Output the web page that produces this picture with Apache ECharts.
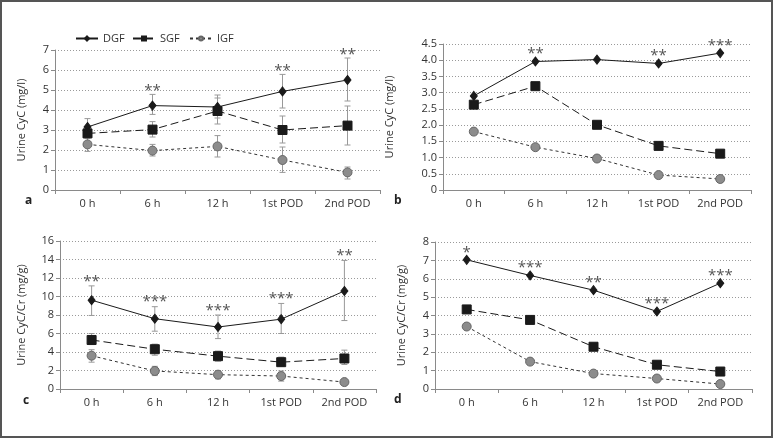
<!DOCTYPE html>
<html><head><meta charset="utf-8">
<script src="https://cdn.jsdelivr.net/npm/echarts@6/dist/echarts.min.js"></script>
<style>html,body{margin:0;padding:0;background:#fff}#c{width:773px;height:438px}</style>
</head><body><div id="c"></div>
<script>
const categories = ['0 h', '6 h', '12 h', '1st POD', '2nd POD'];
const seriesNames = ['DGF', 'SGF', 'IGF'];

// Panel a: Urine CyC (mg/l), mean with error bars
const aDGF = [3.15, 4.22, 4.15, 4.93, 5.5];
const aDGFLow = [2.8, 3.78, 3.6, 4.1, 4.45];
const aDGFHigh = [3.57, 4.78, 4.75, 5.78, 6.6];
const aSGF = [2.83, 3.02, 3.95, 3.0, 3.22];
const aSGFLow = [2.6, 2.65, 3.3, 2.35, 2.25];
const aSGFHigh = [3.05, 3.42, 4.6, 3.7, 4.2];
const aIGF = [2.28, 1.97, 2.18, 1.5, 0.88];
const aIGFLow = [1.93, 1.7, 1.65, 0.88, 0.55];
const aIGFHigh = [2.6, 2.28, 2.72, 2.15, 1.15];
const aStars = ['', '**', '', '**', '**'];

// Panel b: Urine CyC (mg/l)
const bDGF = [2.9, 3.96, 4.02, 3.9, 4.22];
const bSGF = [2.63, 3.2, 2.01, 1.36, 1.12];
const bIGF = [1.8, 1.32, 0.97, 0.46, 0.34];
const bStars = ['', '**', '', '**', '***'];

// Panel c: Urine CyC/Cr (mg/g), mean with error bars
const cDGF = [9.6, 7.6, 6.7, 7.55, 10.6];
const cDGFLow = [7.95, 6.25, 5.45, 6.0, 7.4];
const cDGFHigh = [11.15, 8.9, 8.0, 9.25, 13.9];
const cSGF = [5.3, 4.3, 3.55, 2.9, 3.3];
const cSGFLow = [4.8, 3.65, 3.0, 2.45, 2.65];
const cSGFHigh = [6.0, 4.85, 4.1, 3.45, 4.2];
const cIGF = [3.6, 1.95, 1.55, 1.4, 0.75];
const cIGFLow = [2.9, 1.45, 1.1, 0.85, 0.72];
const cIGFHigh = [4.25, 2.45, 2.0, 1.95, 0.78];
const cStars = ['**', '***', '***', '***', '**'];

// Panel d: Urine CyC/Cr (mg/g)
const dDGF = [7.03, 6.18, 5.38, 4.22, 5.76];
const dSGF = [4.33, 3.76, 2.3, 1.32, 0.95];
const dIGF = [3.4, 1.49, 0.84, 0.57, 0.27];
const dStars = ['*', '***', '**', '***', '***'];

const FONT = 'Open Sans';
const grids = [
  {left: 55, right: 393, top: 50, bottom: 248},
  {left: 443, right: 22, top: 44, bottom: 248},
  {left: 60, right: 397, top: 241, bottom: 49},
  {left: 435, right: 21, top: 242, bottom: 49}
];
const yCfg = [
  {max: 7, interval: 1, name: 'Urine CyC (mg/l)', gap: 28, fmt: v => String(v)},
  {max: 4.5, interval: 0.5, name: 'Urine CyC (mg/l)', gap: 48, fmt: v => v === 0 ? '0' : v.toFixed(1)},
  {max: 16, interval: 2, name: 'Urine CyC/Cr (mg/g)', gap: 33, fmt: v => String(v)},
  {max: 8, interval: 1, name: 'Urine CyC/Cr (mg/g)', gap: 28, fmt: v => String(v)}
];

const xAxis = grids.map((g, i) => ({
  type: 'category', gridIndex: i, data: categories, boundaryGap: true,
  axisLine: {lineStyle: {color: '#8a8a8a', width: 1}},
  axisTick: {show: true, inside: false, length: 4, lineStyle: {color: '#8a8a8a'}},
  axisLabel: {color: '#333', fontFamily: FONT, fontSize: 11, margin: 8}
}));
const yAxis = yCfg.map((c, i) => ({
  type: 'value', gridIndex: i, min: 0, max: c.max, interval: c.interval,
  name: c.name, nameLocation: 'middle', nameGap: c.gap,
  nameTextStyle: {color: '#333', fontFamily: FONT, fontSize: 11},
  axisLine: {show: true, lineStyle: {color: '#8a8a8a', width: 1}},
  axisTick: {show: true, length: 4, lineStyle: {color: '#8a8a8a'}},
  axisLabel: {color: '#333', fontFamily: FONT, fontSize: 11, margin: 6, formatter: c.fmt},
  splitLine: {show: true, lineStyle: {color: '#9a9a9a', type: [1, 2], width: 1}}
}));

const styles = {
  DGF: {symbol: 'diamond', symbolSize: [7, 9], color: '#1a1a1a', border: '#1a1a1a', line: {color: '#1a1a1a', width: 1, type: 'solid'}},
  SGF: {symbol: 'rect', symbolSize: 9, color: '#1a1a1a', border: '#1a1a1a', line: {color: '#1a1a1a', width: 1, type: [8, 4]}},
  IGF: {symbol: 'circle', symbolSize: 9, color: '#8c8c8c', border: '#666', line: {color: '#333', width: 1, type: [3, 3]}}
};

const series = [];
function addLine(name, data, gi) {
  const s = styles[name];
  series.push({
    type: 'line', name: name, xAxisIndex: gi, yAxisIndex: gi, data: data,
    symbol: s.symbol, symbolSize: s.symbolSize, showAllSymbol: true,
    itemStyle: {color: s.color, borderColor: s.border, borderWidth: 1},
    lineStyle: s.line, z: 5, animation: false
  });
}
function addErr(low, high, gi) {
  series.push({
    type: 'custom', xAxisIndex: gi, yAxisIndex: gi, z: 3, silent: true, animation: false,
    data: low.map((l, i) => [i, l, high[i]]),
    renderItem: function (params, api) {
      const lo = api.coord([api.value(0), api.value(1)]);
      const hi = api.coord([api.value(0), api.value(2)]);
      const w = 3;
      const st = {stroke: '#999', lineWidth: 1};
      return {type: 'group', children: [
        {type: 'line', shape: {x1: lo[0], y1: lo[1], x2: hi[0], y2: hi[1]}, style: st},
        {type: 'line', shape: {x1: lo[0] - w, y1: lo[1], x2: lo[0] + w, y2: lo[1]}, style: st},
        {type: 'line', shape: {x1: hi[0] - w, y1: hi[1], x2: hi[0] + w, y2: hi[1]}, style: st}
      ]};
    }
  });
}
function addStars(stars, anchor, gi, gap) {
  series.push({
    type: 'custom', xAxisIndex: gi, yAxisIndex: gi, z: 6, silent: true, animation: false,
    data: stars.map((t, i) => [i, anchor[i]]),
    renderItem: function (params, api) {
      const txt = stars[params.dataIndex];
      if (!txt) return null;
      const p = api.coord([api.value(0), api.value(1)]);
      return {type: 'text', style: {text: txt, x: p[0], y: p[1] - gap, align: 'center', verticalAlign: 'bottom',
        fill: '#555', font: '15px "' + FONT + '"'}};
    }
  });
}

// panel a
addErr(aDGFLow, aDGFHigh, 0); addErr(aSGFLow, aSGFHigh, 0); addErr(aIGFLow, aIGFHigh, 0);
addLine('DGF', aDGF, 0); addLine('SGF', aSGF, 0); addLine('IGF', aIGF, 0);
addStars(aStars, aDGFHigh, 0, -4);
// panel b
addLine('DGF', bDGF, 1); addLine('SGF', bSGF, 1); addLine('IGF', bIGF, 1);
addStars(bStars, bDGF, 1, 0);
// panel c
addErr(cDGFLow, cDGFHigh, 2); addErr(cSGFLow, cSGFHigh, 2); addErr(cIGFLow, cIGFHigh, 2);
addLine('DGF', cDGF, 2); addLine('SGF', cSGF, 2); addLine('IGF', cIGF, 2);
addStars(cStars, cDGFHigh, 2, -3);
// panel d
addLine('DGF', dDGF, 3); addLine('SGF', dSGF, 3); addLine('IGF', dIGF, 3);
addStars(dStars, dDGF, 3, 0);

const panelLetters = ['a', 'b', 'c', 'd'];
const letterPos = [[29, 203], [398, 203], [27, 403], [398, 402]];
const legendLeft = [70, 127, 184];

const chart = echarts.init(document.getElementById('c'), null, {renderer: 'canvas'});
chart.setOption({
  animation: false,
  backgroundColor: '#fff',
  grid: grids,
  xAxis: xAxis,
  yAxis: yAxis,
  legend: seriesNames.map((n, i) => ({
    data: [n], left: legendLeft[i], top: 28, itemWidth: 22, itemHeight: 5, itemGap: 0,
    textStyle: {color: '#333', fontFamily: FONT, fontSize: 11}
  })),
  series: series,
  graphic: panelLetters.map((t, i) => ({
    type: 'text', left: letterPos[i][0] - 4, top: letterPos[i][1] - 8,
    style: {text: t, font: 'bold 12px "' + FONT + '"', fill: '#222'}
  })).concat([{
    type: 'rect', shape: {x: 1, y: 1, width: 771, height: 436},
    style: {fill: 'none', stroke: '#555', lineWidth: 2}, z: 100
  }])
});
</script></body></html>
